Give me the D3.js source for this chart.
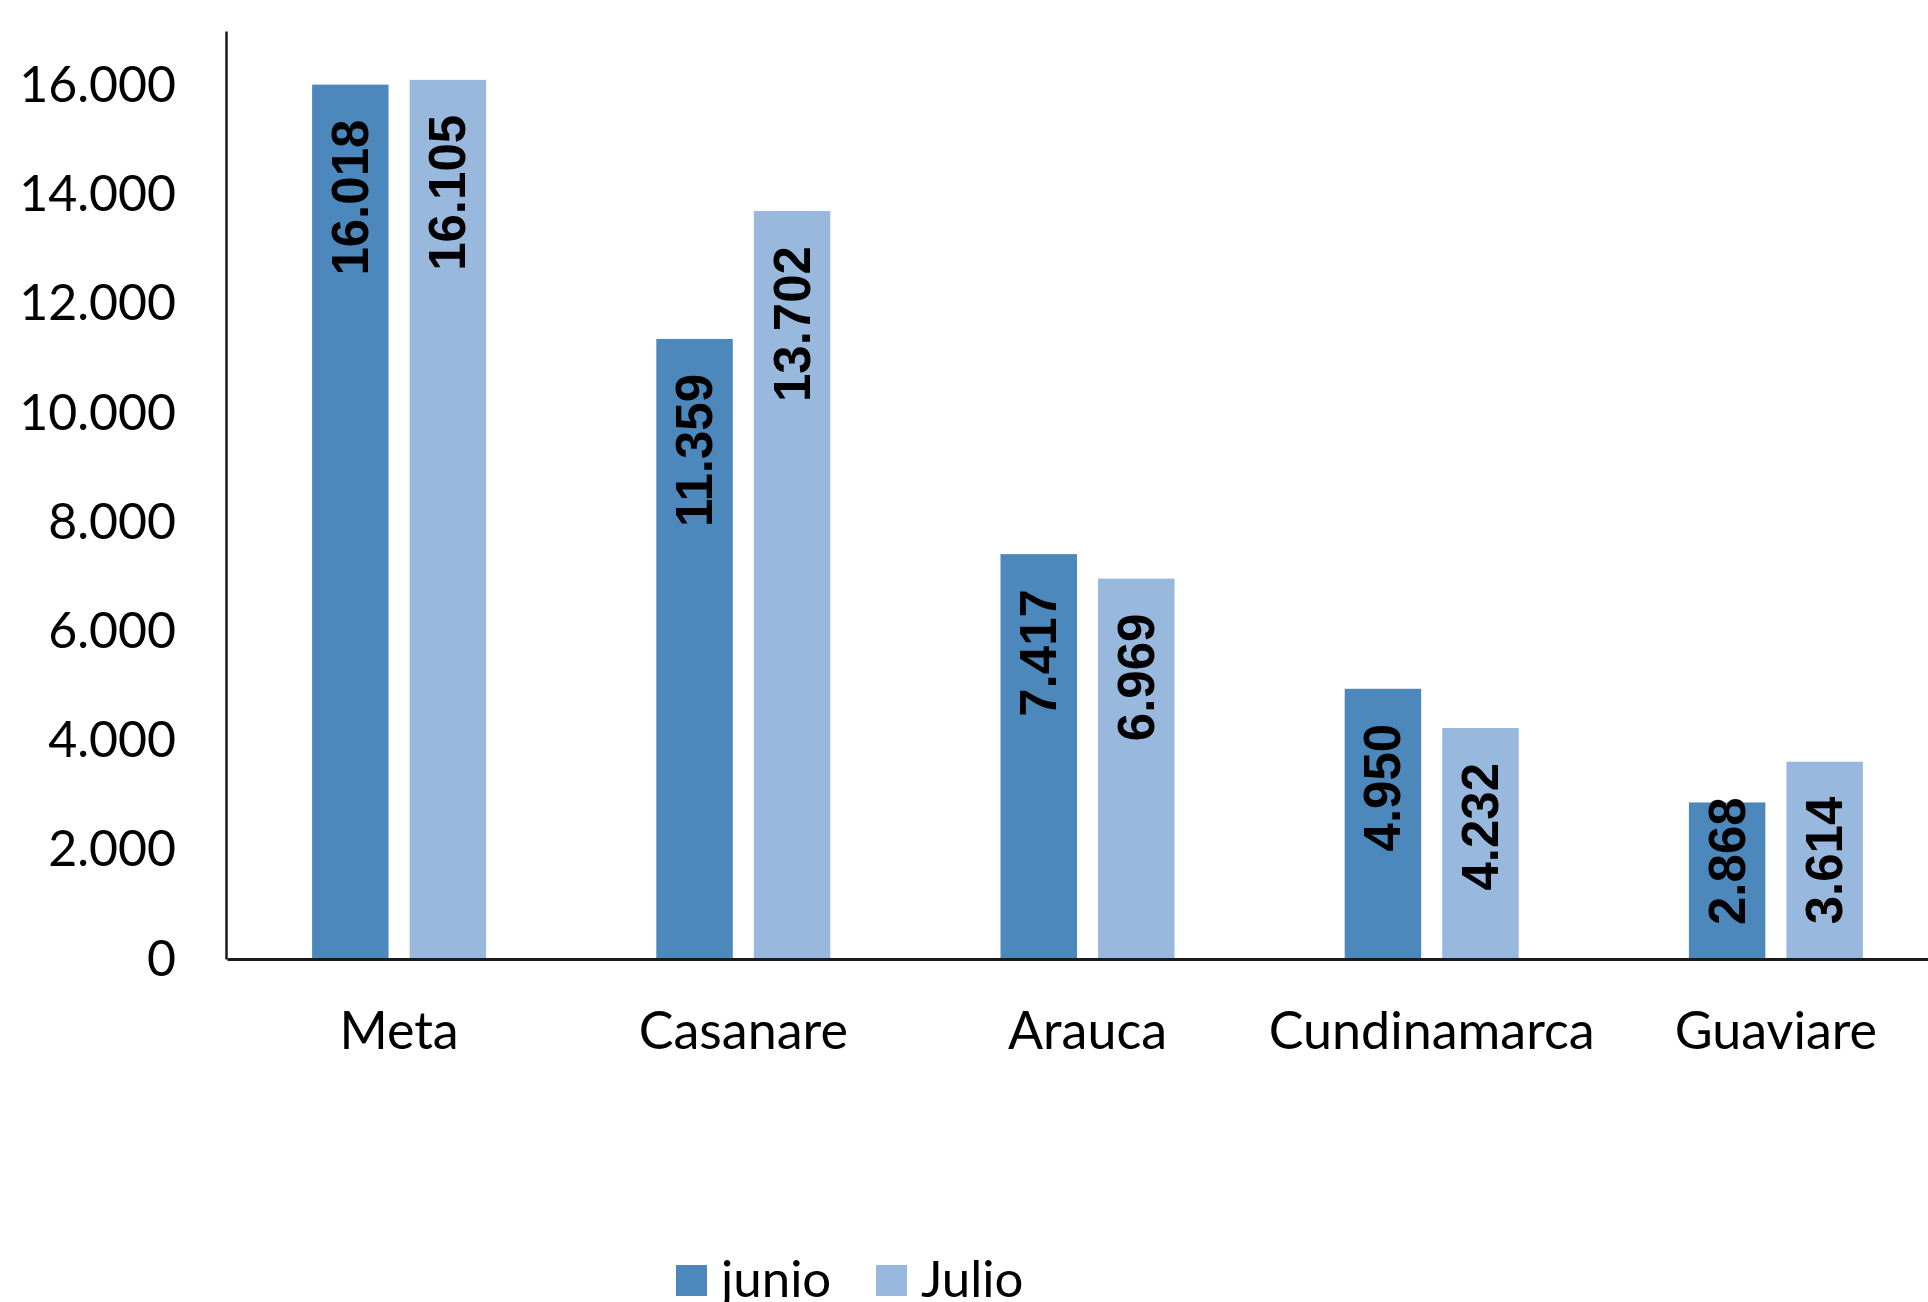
<!DOCTYPE html>
<html>
<head>
<meta charset="utf-8">
<title>junio / Julio por departamento</title>
<style>
  body, html { margin: 0; padding: 0; background: #ffffff; }
  .y_axis text, .x_axis text {
    font-family: Lato, 'Open Sans', sans-serif;
    fill: #000000;
  }
  .y_axis text { font-size: 50px; }
  .x_axis text { font-size: 52px; }
  .y_axis path, .x_axis path { stroke: #1a1a1a; }
  .y_axis path { stroke-width: 2.5; }
  .x_axis path { stroke-width: 3; }
  .values {
    font-family: 'Liberation Sans', Arial, sans-serif;
    font-weight: 700;
    font-size: 51px;
    fill: #000000;
  }
  .legend text {
    font-family: Lato, 'Open Sans', sans-serif;
    font-size: 51px;
    fill: #000000;
  }
</style>
<script src="https://cdnjs.cloudflare.com/ajax/libs/d3/7.8.5/d3.min.js"></script>
</head>
<body>
<div id="chart"></div>
<script>
var categories = ["Meta", "Casanare", "Arauca", "Cundinamarca", "Guaviare"];
var series = ["junio", "Julio"];
var junio = [16018, 11359, 7417, 4950, 2868];
var julio = [16105, 13702, 6969, 4232, 3614];
var y_ticks = [0, 2000, 4000, 6000, 8000, 10000, 12000, 14000, 16000];
var colors = ["#4d88bc", "#98b8de"];

var width = 1928;
var height = 1302;

var es = d3.formatLocale({ decimal: ",", thousands: ".", grouping: [3], currency: ["$", ""] });
var fmt = es.format(",d");

var svg = d3.select("#chart")
            .append("svg")
            .attr("width", width)
            .attr("height", height);

// plot area (x axis runs past the right edge of the picture)
var plot_left = 226, plot_right = 1948, plot_bottom = 959, plot_top = 31;

var x0 = d3.scaleBand()
           .domain(categories)
           .range([plot_left + 1, plot_right])
           .padding(0);

var inner = 174;
var x1 = d3.scaleBand()
           .domain(series)
           .range([(x0.bandwidth() - inner) / 2, (x0.bandwidth() + inner) / 2])
           .paddingInner(0.216)
           .paddingOuter(0);

var y = d3.scaleLinear()
          .domain([0, 17000])
          .range([plot_bottom, plot_top]);

var rows = categories.map(function(c, i) {
  return { cat: c, values: [
    { key: series[0], value: junio[i], color: colors[0] },
    { key: series[1], value: julio[i], color: colors[1] }
  ]};
});

var groups = svg.selectAll(".grp")
                .data(rows)
                .enter()
                .append("g")
                .attr("class", "grp")
                .attr("transform", function(d) { return "translate(" + x0(d.cat) + ",0)"; });

groups.selectAll("rect")
      .data(function(d) { return d.values; })
      .enter()
      .append("rect")
      .attr("x", function(d) { return x1(d.key); })
      .attr("width", x1.bandwidth())
      .attr("y", function(d) { return y(d.value); })
      .attr("height", function(d) { return y(0) - y(d.value); })
      .attr("fill", function(d) { return d.color; });

// value labels, rotated, inside end of the bar
var gap = 35;
groups.selectAll(".values")
      .data(function(d) { return d.values; })
      .enter()
      .append("text")
      .attr("class", "values")
      .attr("dominant-baseline", "central")
      .attr("text-anchor", "end")
      .text(function(d) { return fmt(d.value); })
      .each(function(d) {
        var len = this.getComputedTextLength();
        var topY = Math.min(y(d.value) + gap, y(0) - 34 - len);
        var cx = x1(d.key) + x1.bandwidth() / 2;
        d3.select(this).attr("transform", "translate(" + cx + "," + topY + ") rotate(-90)");
      });

svg.append("g")
   .attr("class", "y_axis")
   .attr("transform", "translate(" + plot_left + ",0)")
   .call(d3.axisLeft(y).tickValues(y_ticks).tickSize(0).tickPadding(50).tickFormat(fmt));

svg.append("g")
   .attr("class", "x_axis")
   .attr("transform", "translate(0," + plot_bottom + ")")
   .call(d3.axisBottom(x0).tickSize(0).tickPadding(53));

// legend
var legend = svg.append("g").attr("class", "legend");
var leg_x = [676, 876];
series.forEach(function(s, i) {
  legend.append("rect")
        .attr("x", leg_x[i])
        .attr("y", 1265)
        .attr("width", 31)
        .attr("height", 31)
        .attr("fill", colors[i]);
  legend.append("text")
        .attr("x", leg_x[i] + 45)
        .attr("y", 1297)
        .text(s);
});
</script>
</body>
</html>
